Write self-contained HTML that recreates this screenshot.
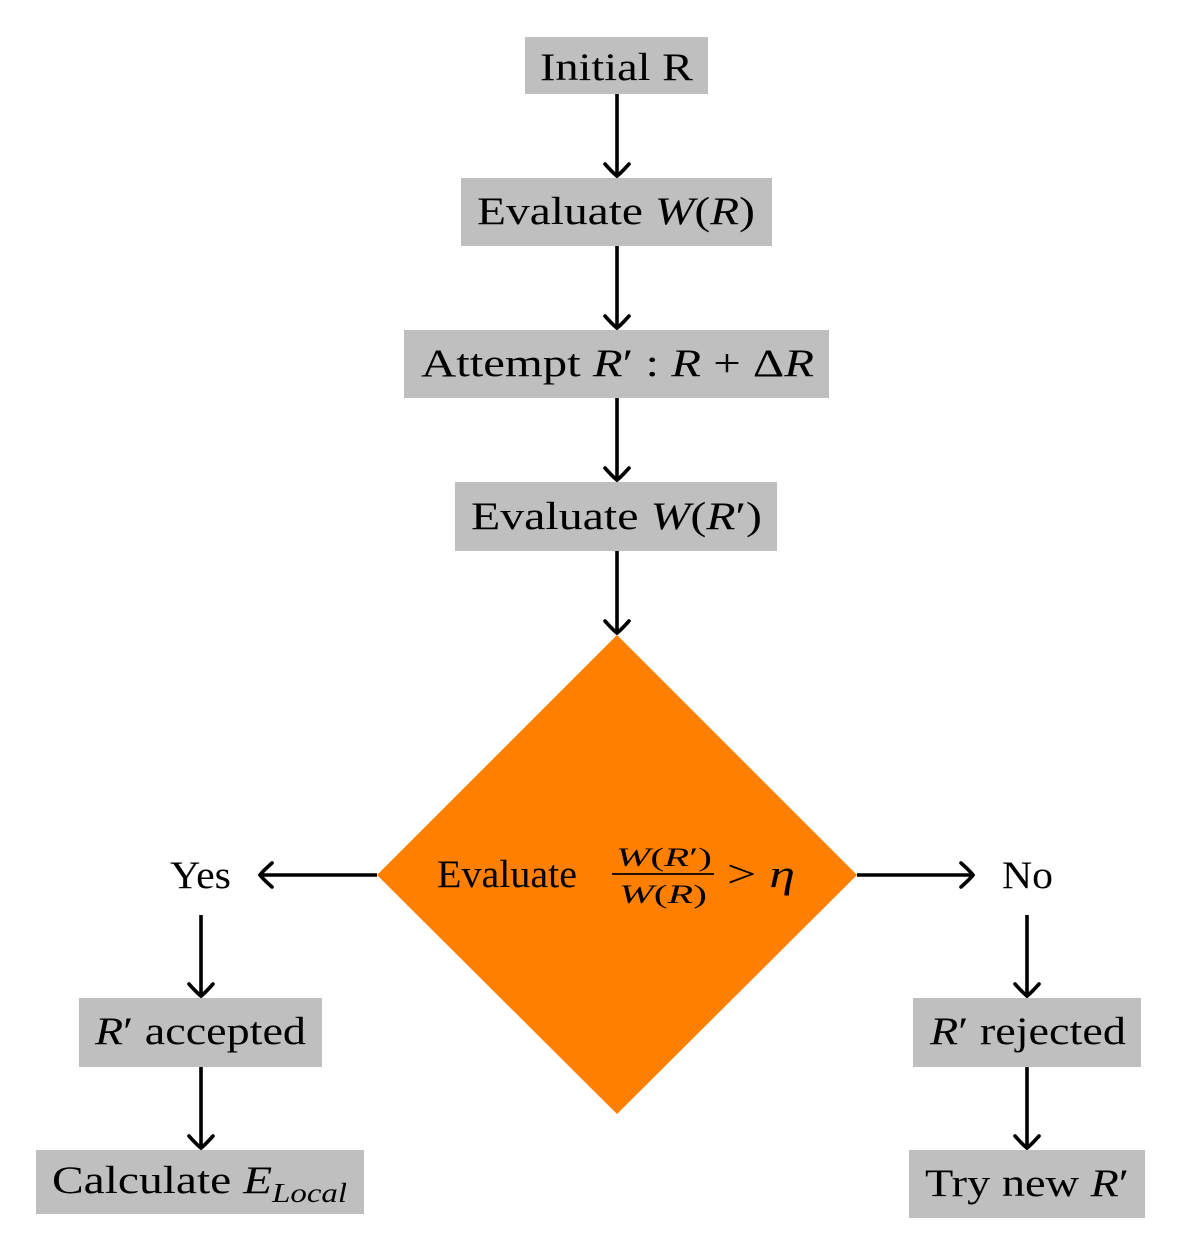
<!DOCTYPE html>
<html><head><meta charset="utf-8"><style>
html,body{margin:0;padding:0;background:#fff}
svg{display:block}
</style></head><body>
<svg width="1181" height="1254" viewBox="0 0 1181 1254" xmlns="http://www.w3.org/2000/svg" font-family="'Liberation Serif','DejaVu Serif',serif" font-size="39">
<defs>
<marker id="a" viewBox="-15 -15 30 30" markerWidth="30" markerHeight="30" refX="0" refY="0" orient="auto" markerUnits="userSpaceOnUse">
<path d="M-12,-12 Q-3,-4 0,0 Q-3,4 -12,12" fill="none" stroke="#000" stroke-width="3.6" stroke-linecap="round"/>
</marker>
</defs>
<g fill="#bfbfbf">
<rect x="525" y="37" width="183" height="57"/>
<rect x="461" y="178" width="311" height="68"/>
<rect x="404" y="330" width="425" height="68"/>
<rect x="455" y="482" width="322" height="69"/>
<rect x="79" y="998" width="243" height="69"/>
<rect x="36" y="1150" width="328" height="64"/>
<rect x="913" y="998" width="228" height="69"/>
<rect x="909" y="1150" width="236" height="68"/>
</g>
<polygon points="617,635 857,875 617,1114 377,875" fill="#ff8000"/>
<g stroke="#000" stroke-width="3.6" fill="none" marker-end="url(#a)">
<line x1="617" y1="94" x2="617" y2="176"/>
<line x1="617" y1="246" x2="617" y2="328"/>
<line x1="617" y1="398" x2="617" y2="480"/>
<line x1="617" y1="551" x2="617" y2="633"/>
<line x1="377" y1="875" x2="260" y2="875"/>
<line x1="857" y1="875" x2="973" y2="875"/>
<line x1="201" y1="915" x2="201" y2="996"/>
<line x1="201" y1="1067" x2="201" y2="1148"/>
<line x1="1027" y1="915" x2="1027" y2="996"/>
<line x1="1027" y1="1067" x2="1027" y2="1148"/>
</g>
<text x="540" y="80" textLength="153" lengthAdjust="spacingAndGlyphs">Initial R</text>
<text x="477" y="224" textLength="278" lengthAdjust="spacingAndGlyphs">Evaluate <tspan font-style="italic">W</tspan>(<tspan font-style="italic">R</tspan>)</text>
<text x="421" y="376" textLength="393" lengthAdjust="spacingAndGlyphs">Attempt <tspan font-style="italic">R</tspan>′ : <tspan font-style="italic">R</tspan> + Δ<tspan font-style="italic">R</tspan></text>
<text x="471" y="529" textLength="291" lengthAdjust="spacingAndGlyphs">Evaluate <tspan font-style="italic">W</tspan>(<tspan font-style="italic">R</tspan>′)</text>
<text x="437" y="887" textLength="140" lengthAdjust="spacingAndGlyphs">Evaluate</text>
<text x="616" y="866" font-size="26" textLength="96" lengthAdjust="spacingAndGlyphs"><tspan font-style="italic">W</tspan>(<tspan font-style="italic">R</tspan>′)</text>
<line x1="612" y1="874" x2="714" y2="874" stroke="#000" stroke-width="1.8"/>
<text x="619" y="903" font-size="26" textLength="88" lengthAdjust="spacingAndGlyphs"><tspan font-style="italic">W</tspan>(<tspan font-style="italic">R</tspan>)</text>
<text x="727" y="887" textLength="68" lengthAdjust="spacingAndGlyphs">&gt; <tspan font-style="italic">η</tspan></text>
<text x="170" y="888" textLength="61" lengthAdjust="spacingAndGlyphs">Yes</text>
<text x="1002" y="888" textLength="51" lengthAdjust="spacingAndGlyphs">No</text>
<text x="95" y="1044" textLength="211" lengthAdjust="spacingAndGlyphs"><tspan font-style="italic">R</tspan>′ accepted</text>
<text x="52" y="1193" textLength="295" lengthAdjust="spacingAndGlyphs">Calculate <tspan font-style="italic">E</tspan><tspan font-style="italic" font-size="27" dy="9">Local</tspan></text>
<text x="930" y="1044" textLength="196" lengthAdjust="spacingAndGlyphs"><tspan font-style="italic">R</tspan>′ rejected</text>
<text x="925" y="1196" textLength="204" lengthAdjust="spacingAndGlyphs">Try new <tspan font-style="italic">R</tspan>′</text>
</svg>
</body></html>
